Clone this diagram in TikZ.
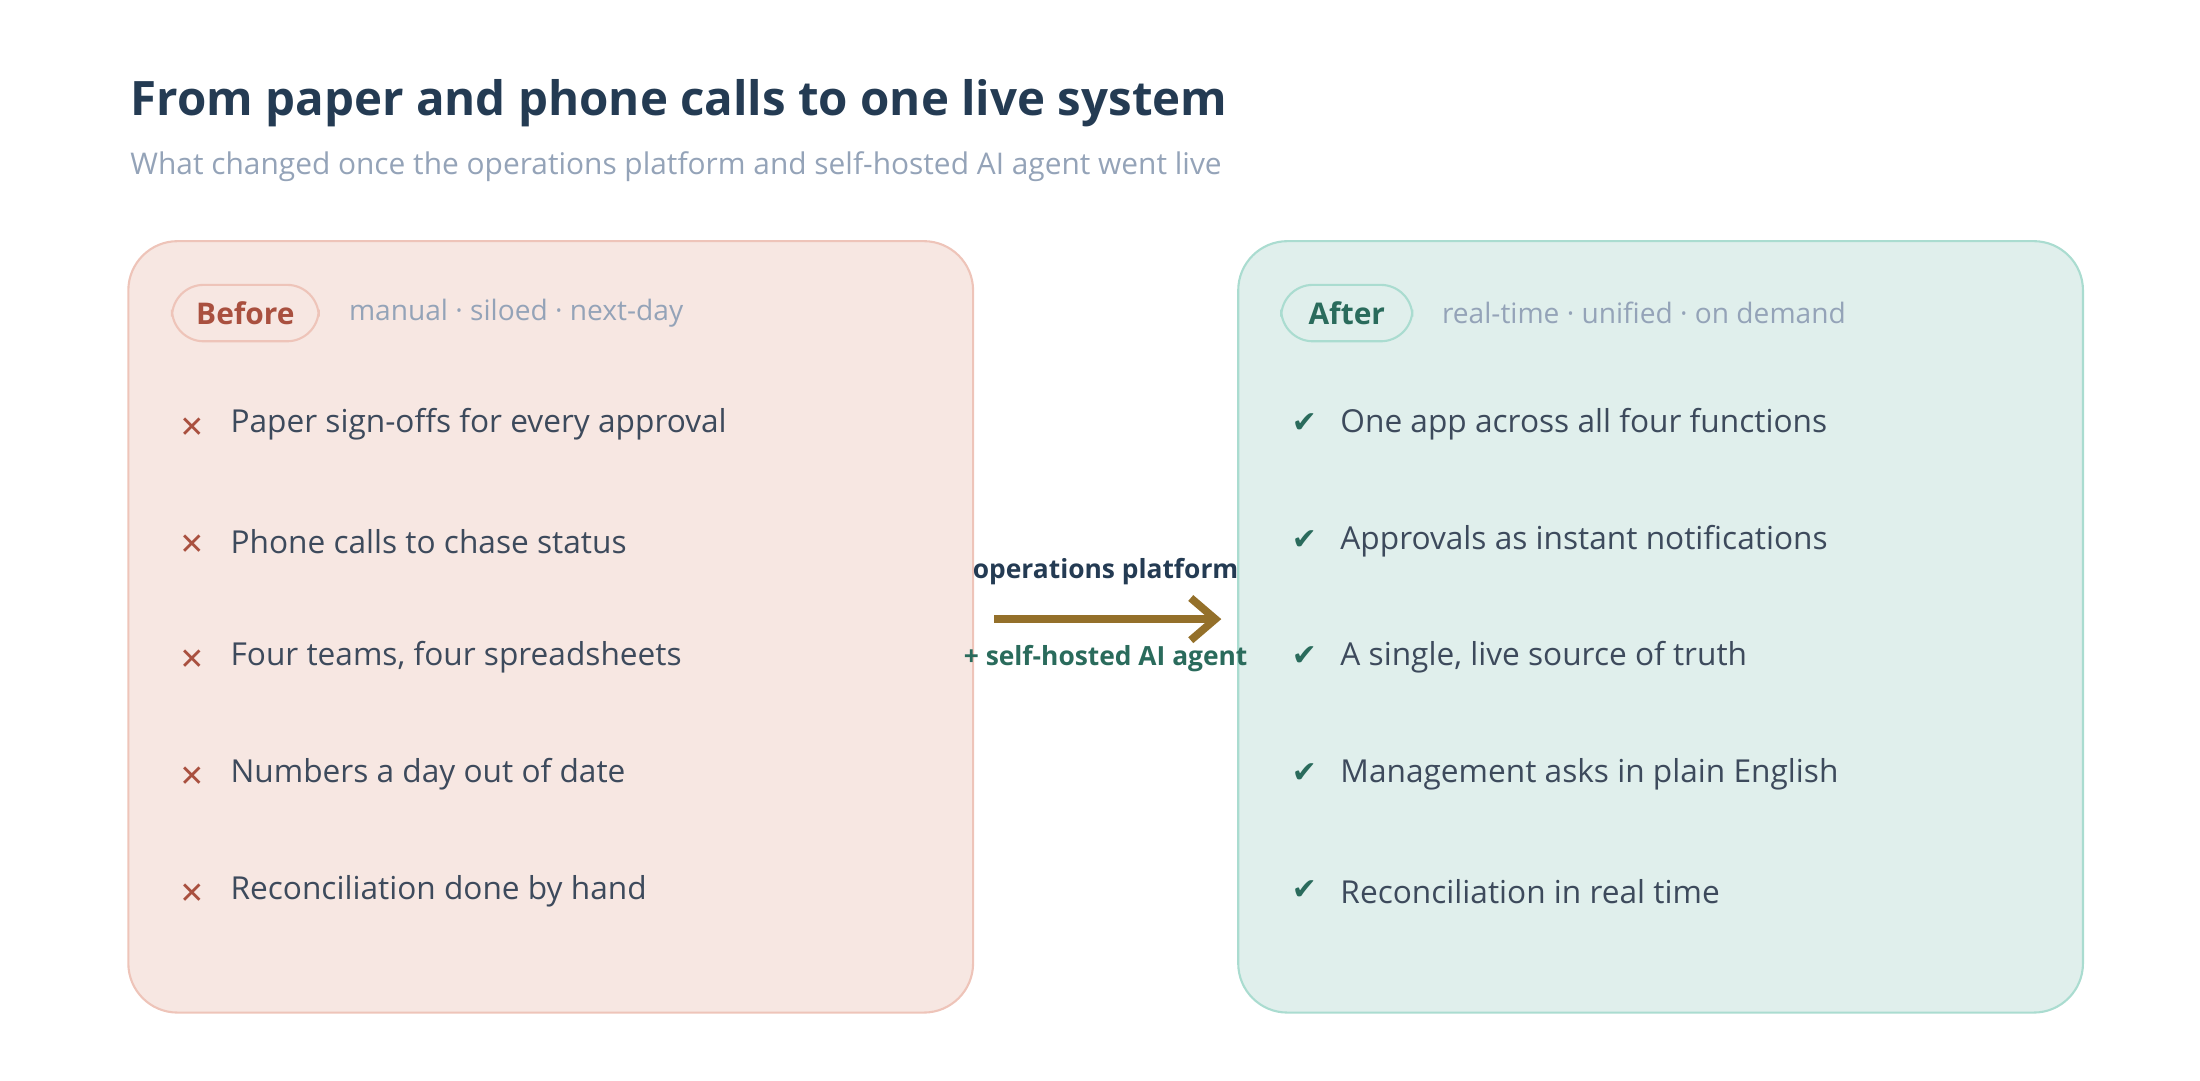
\documentclass[tikz,border=0pt]{standalone}
\usepackage{fontspec}
\setmainfont{Open Sans}
\newfontfamily\symfont{DejaVu Sans}
\usetikzlibrary{positioning, arrows.meta}
\definecolor{navy}{HTML}{243B53}
\definecolor{mist}{HTML}{94A3B8}
\definecolor{body}{HTML}{3D4A5C}
\definecolor{rosefill}{HTML}{F7E7E2}
\definecolor{roseline}{HTML}{EEC4B9}
\definecolor{rosedark}{HTML}{A9503F}
\definecolor{mintfill}{HTML}{E0EFEC}
\definecolor{mintline}{HTML}{AADCD0}
\definecolor{mintdark}{HTML}{2A6B5C}
\definecolor{bronze}{HTML}{94702A}
\newlength{\pxu}\setlength{\pxu}{0.141mm}
\tikzset{
  panel/.style={rounded corners=14pt, line width=0.6pt},
  pill/.style={rounded corners=9pt, line width=0.6pt, minimum width=104\pxu, minimum height=40\pxu, font=\bfseries\fontsize{8.5}{10}\selectfont},
  tag/.style={anchor=west, inner sep=0pt, text=mist, font=\fontsize{8}{10}\selectfont},
  item/.style={anchor=west, inner sep=0pt, text=body, font=\fontsize{9}{11}\selectfont},
  bullet/.style={font=\symfont\bfseries\fontsize{8.5}{10}\selectfont},
}
\begin{document}
\begin{tikzpicture}[x=0.141mm, y=-0.141mm]
  \useasboundingbox (0,0) rectangle (1560,766);
  \node (title) at (92,73) [anchor=west, inner sep=0pt, text=navy, font=\bfseries\fontsize{13.5}{16}\selectfont] {From paper and phone calls to one live system};
  \node (subtitle) at (92,118) [anchor=west, inner sep=0pt, text=mist, font=\fontsize{8.5}{10}\selectfont] {What changed once the operations platform and self-hosted AI agent went live};

  % before panel
  \draw [panel, fill=rosefill, draw=roseline] (91,171) rectangle (690,718);
  \node (before) at (174,222) [pill, draw=roseline, text=rosedark] {Before};
  \node (beforetag) at (247,222) [tag] {manual · siloed · next-day};
  \foreach \y/\txt [count=\i] in {301/Paper sign-offs for every approval, 384/Phone calls to chase status, 466/{Four teams, four spreadsheets}, 549/Numbers a day out of date, 632/Reconciliation done by hand} {
    \node (xm\i) at (136,\y+2) [bullet, text=rosedark] {✕};
    \node (old\i) at (163,\y) [item] {\txt};
  }

  % after panel
  \draw [panel, fill=mintfill, draw=mintline] (878,171) rectangle (1477,718);
  \node (after) at (955,222) [pill, minimum width=93\pxu, draw=mintline, text=mintdark] {After};
  \node (aftertag) at (1022,222) [tag] {real-time · unified · on demand};
  \foreach \y/\txt [count=\i] in {301/One app across all four functions, 384/Approvals as instant notifications, 466/{A single, live source of truth}, 549/Management asks in plain English, 632/Reconciliation in real time} {
    \node (ck\i) at (925,\y-1) [bullet, text=mintdark] {✔};
    \node (new\i) at (950,\y) [item] {\txt};
  }

  % transition
  \coordinate (from) at (705,439);
  \coordinate (to) at (866,439);
  \draw [-{Straight Barb[length=7pt, width=12pt]}, bronze, line width=2.2pt] (from) -- (to);
  \node (platform) at (784,405) [text=navy, font=\bfseries\fontsize{7.5}{9}\selectfont] {operations platform};
  \node (agent) at (784,467) [text=mintdark, font=\bfseries\fontsize{7.5}{9}\selectfont] {+ self-hosted AI agent};
\end{tikzpicture}
\end{document}
